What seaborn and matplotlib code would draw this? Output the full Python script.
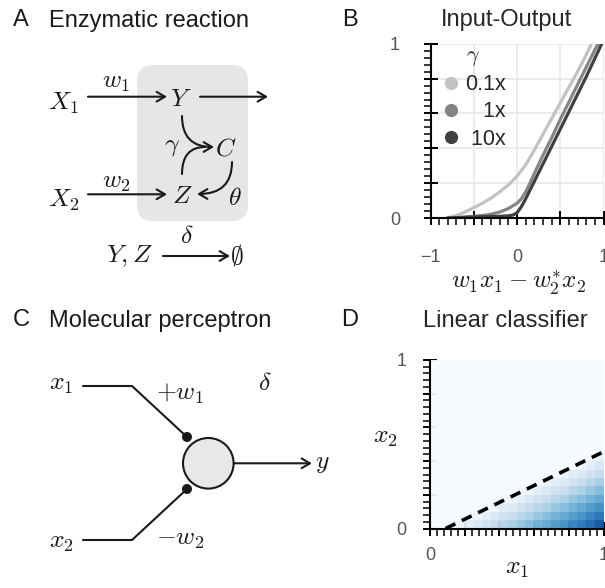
import numpy as np
import pandas as pd
import seaborn as sns
import matplotlib.pyplot as plt
from matplotlib.lines import Line2D
from matplotlib.patches import FancyBboxPatch, Circle
from matplotlib.ticker import MultipleLocator, FuncFormatter

# --- values ---

# B: steady state output vs net input w1*x1 - w2*x2, one curve per gamma
gamma_labels = ["0.1x", "1x", "10x"]
gamma_colors = ["#c2c2c2", "#858585", "#404040"]
u_slow = [-0.82, -0.7, -0.6, -0.5, -0.4, -0.3, -0.2, -0.1, 0.0, 0.1, 0.2, 0.3,
          0.4, 0.5, 0.6, 0.7, 0.8, 0.86]
y_slow = [0.0, 0.015, 0.035, 0.06, 0.085, 0.115, 0.15, 0.19, 0.24, 0.305, 0.39,
          0.48, 0.57, 0.66, 0.75, 0.84, 0.935, 1.0]
u_mid = [-0.8, -0.6, -0.5, -0.4, -0.3, -0.2, -0.1, 0.0, 0.05, 0.1, 0.15, 0.2,
         0.3, 0.4, 0.5, 0.6, 0.7, 0.8, 0.9, 0.94]
y_mid = [0.0, 0.005, 0.01, 0.015, 0.022, 0.035, 0.055, 0.085, 0.11, 0.15, 0.2,
         0.255, 0.36, 0.46, 0.565, 0.665, 0.765, 0.865, 0.965, 1.0]
u_fast = [-0.8, -0.6, -0.4, -0.2, -0.1, -0.05, 0.0, 0.05, 0.1, 0.2, 0.4, 0.6,
          0.8, 0.98]
y_fast = [0.0, 0.005, 0.008, 0.01, 0.013, 0.017, 0.03, 0.065, 0.11, 0.21, 0.41,
          0.61, 0.81, 1.0]

# D: classifier output on a 20x20 grid over (x1, x2), bottom row first
clf_out = [
    [0, 0, .02, .05, .10, .14, .19, .23, .28, .32, .37, .41, .46, .50, .55, .59, .64, .68, .73, .80],
    [0, 0, 0, 0, .02, .05, .10, .14, .19, .23, .28, .32, .37, .41, .46, .50, .55, .59, .64, .70],
    [0, 0, 0, 0, 0, 0, .02, .05, .10, .14, .19, .23, .28, .32, .37, .41, .46, .50, .55, .60],
    [0, 0, 0, 0, 0, 0, 0, 0, .02, .05, .10, .14, .19, .23, .28, .32, .37, .41, .46, .51],
    [0, 0, 0, 0, 0, 0, 0, 0, 0, 0, .02, .05, .10, .14, .19, .23, .28, .32, .37, .42],
    [0, 0, 0, 0, 0, 0, 0, 0, 0, 0, 0, 0, .02, .05, .10, .14, .19, .23, .28, .33],
    [0, 0, 0, 0, 0, 0, 0, 0, 0, 0, 0, 0, 0, 0, .02, .05, .10, .14, .19, .24],
    [0, 0, 0, 0, 0, 0, 0, 0, 0, 0, 0, 0, 0, 0, 0, 0, .02, .05, .10, .15],
    [0, 0, 0, 0, 0, 0, 0, 0, 0, 0, 0, 0, 0, 0, 0, 0, 0, 0, .02, .06],
    [0, 0, 0, 0, 0, 0, 0, 0, 0, 0, 0, 0, 0, 0, 0, 0, 0, 0, 0, 0],
    [0, 0, 0, 0, 0, 0, 0, 0, 0, 0, 0, 0, 0, 0, 0, 0, 0, 0, 0, 0],
    [0, 0, 0, 0, 0, 0, 0, 0, 0, 0, 0, 0, 0, 0, 0, 0, 0, 0, 0, 0],
    [0, 0, 0, 0, 0, 0, 0, 0, 0, 0, 0, 0, 0, 0, 0, 0, 0, 0, 0, 0],
    [0, 0, 0, 0, 0, 0, 0, 0, 0, 0, 0, 0, 0, 0, 0, 0, 0, 0, 0, 0],
    [0, 0, 0, 0, 0, 0, 0, 0, 0, 0, 0, 0, 0, 0, 0, 0, 0, 0, 0, 0],
    [0, 0, 0, 0, 0, 0, 0, 0, 0, 0, 0, 0, 0, 0, 0, 0, 0, 0, 0, 0],
    [0, 0, 0, 0, 0, 0, 0, 0, 0, 0, 0, 0, 0, 0, 0, 0, 0, 0, 0, 0],
    [0, 0, 0, 0, 0, 0, 0, 0, 0, 0, 0, 0, 0, 0, 0, 0, 0, 0, 0, 0],
    [0, 0, 0, 0, 0, 0, 0, 0, 0, 0, 0, 0, 0, 0, 0, 0, 0, 0, 0, 0],
    [0, 0, 0, 0, 0, 0, 0, 0, 0, 0, 0, 0, 0, 0, 0, 0, 0, 0, 0, 0],
]
boundary_x1 = [0.09, 1.0]
boundary_x2 = [0.0, 0.455]

# --- style ---
sns.set_style("whitegrid", {"axes.edgecolor": "black", "grid.color": "#e6e6e6",
                            "xtick.bottom": True, "ytick.left": True})
plt.rcParams["font.family"] = ["Liberation Sans", "DejaVu Sans"]
plt.rcParams["mathtext.fontset"] = "cm"
plt.rcParams["axes.linewidth"] = 1.5
plt.rcParams["grid.linewidth"] = 1.1

ink = "#1a1a1a"
MATH = 18.5
W, H = 605, 588
fig = plt.figure(figsize=(W / 100, H / 100), dpi=100)

# background axes in pixel units for the two diagrams and the panel letters
bg = fig.add_axes([0, 0, 1, 1])
bg.set_xlim(0, W)
bg.set_ylim(H, 0)
bg.axis("off")


def txt(x, y, s, size=MATH, ha="left", **kw):
    bg.text(x, y, s, fontsize=size, ha=ha, va="baseline", color=ink, **kw)


def arrow(p0, p1, conn="arc3", head=True):
    style = "->,head_length=0.6,head_width=0.35" if head else "-"
    bg.annotate("", xy=p1, xytext=p0,
                arrowprops=dict(arrowstyle=style, lw=1.5, color=ink, shrinkA=0,
                                shrinkB=0, mutation_scale=10, connectionstyle=conn))


# panel letters and titles
txt(21, 26.5, "A", 17, "center")
txt(49, 26.5, "Enzymatic reaction", 17)
txt(349.5, 26.5, "B", 17, "center")
txt(21, 326.5, "C", 17, "center")
txt(49, 326.5, "Molecular perceptron", 17)
txt(349.5, 326.5, "D", 17, "center")

# A: enzymatic reaction scheme
bg.add_patch(FancyBboxPatch((137, 65), 111, 156, boxstyle="round,pad=0,rounding_size=16",
                            fc="#e6e6e6", ec="none"))
txt(48, 110, r"$X_1$")
txt(48, 207, r"$X_2$")
txt(102, 88, r"$w_1$")
txt(102, 188, r"$w_2$")
txt(170, 106, r"$Y$")
txt(172, 203, r"$Z$")
txt(215, 155, r"$C$")
txt(164, 151, r"$\gamma$")
txt(228, 205, r"$\theta$")
txt(106, 262, r"$Y, Z$")
txt(180, 243, r"$\delta$")
txt(230, 263, r"$\emptyset$")
arrow((88, 96.7), (167, 96.7))
arrow((200, 96.7), (268, 96.7))
arrow((88, 194.3), (167, 194.3))
arrow((182, 116), (214, 147), "angle3,angleA=90,angleB=0")
arrow((182, 174), (205, 147), "angle3,angleA=90,angleB=0", head=False)
arrow((232, 162), (197, 194), "angle3,angleA=90,angleB=0")
arrow((163, 256), (230, 256))

# C: perceptron scheme
txt(49, 390, r"$x_1$")
txt(49, 548, r"$x_2$")
txt(156, 400, r"$+w_1$")
txt(156, 545, r"$-w_2$")
txt(265, 390, r"$\delta$", ha="center")
txt(315, 468, r"$y$")
bg.plot([83, 132, 187], [386, 386, 437], color=ink, lw=1.5)
bg.plot([83, 132, 187], [540, 540, 489], color=ink, lw=1.5)
bg.add_patch(Circle((208.3, 463.3), 25.3, fc="#e8e8e8", ec=ink, lw=1.5, zorder=3))
bg.add_patch(Circle((187, 437), 5, fc=ink, ec="none", zorder=4))
bg.add_patch(Circle((187, 489), 5, fc=ink, ec="none", zorder=4))
arrow((234, 463.3), (312, 463.3))


def end_labels(v, pos):
    if abs(v - round(v)) > 1e-9:
        return ""
    return f"{int(round(v))}".replace("-", "\u2212")


def style_axes(ax, xmaj, xmin, ymaj, ymin, xpad, ypad):
    ax.xaxis.set_major_locator(MultipleLocator(xmaj))
    ax.xaxis.set_minor_locator(MultipleLocator(xmin))
    ax.yaxis.set_major_locator(MultipleLocator(ymaj))
    ax.yaxis.set_minor_locator(MultipleLocator(ymin))
    ax.xaxis.set_major_formatter(FuncFormatter(end_labels))
    ax.yaxis.set_major_formatter(FuncFormatter(end_labels))
    ax.tick_params(which="major", direction="inout", length=10, width=1.4,
                   color="black", labelsize=13, labelcolor="#555555")
    ax.tick_params(which="minor", direction="out", length=5, width=1.1, color="black")
    ax.tick_params(axis="x", which="major", pad=xpad)
    ax.tick_params(axis="y", which="major", pad=ypad)
    sns.despine(ax=ax)


# B: input-output curves
ax_b = fig.add_axes([430.5 / W, 1 - 218.1 / H, 173 / W, 174.4 / H])
io = pd.concat([
    pd.DataFrame({"u": u_slow, "y": y_slow, "gamma": gamma_labels[0]}),
    pd.DataFrame({"u": u_mid, "y": y_mid, "gamma": gamma_labels[1]}),
    pd.DataFrame({"u": u_fast, "y": y_fast, "gamma": gamma_labels[2]}),
])
sns.lineplot(data=io, x="u", y="y", hue="gamma", hue_order=gamma_labels,
             palette=gamma_colors, sort=False, estimator=None, lw=2.3,
             legend=False, ax=ax_b)
ax_b.set_xlim(-1, 1)
ax_b.set_ylim(0, 1)
style_axes(ax_b, 0.5, 0.1, 0.2, 0.04, 17, 17)
ax_b.set_ylabel("")
ax_b.set_xlabel(r"$w_1x_1 - w_2^{*}x_2$", fontsize=18, color=ink, va="center")
ax_b.xaxis.set_label_coords(0.506, -0.37)
ax_b.set_title("Input-Output", fontsize=17, x=0.442, y=1.099, pad=0, va="baseline")

# legend with right-aligned labels (figure/punctuation spaces as padding)
handles = [Line2D([], [], ls="none", marker="o", ms=8.5, color=c) for c in gamma_colors]
leg_labels = ["0.1x", "\u2007\u20081x", "\u200810x"]
ax_b.legend(handles, leg_labels, title=r"$\gamma$", loc="upper left",
            bbox_to_anchor=(0.057, 0.99), frameon=False, fontsize=15.5,
            title_fontsize=16, handletextpad=0.15, labelspacing=0.28,
            borderpad=0, borderaxespad=0, handlelength=1.0)

# D: linear classifier heatmap
ax_d = fig.add_axes([430 / W, 1 - 528.5 / H, 173.5 / W, 168.5 / H])
n = len(clf_out)
cells = []
for r, row in enumerate(clf_out):
    for c, v in enumerate(row):
        cells.append(((c + 0.5) / n, (r + 0.5) / n, v))
grid_df = pd.DataFrame(cells, columns=["x1", "x2", "out"])
sns.histplot(data=grid_df, x="x1", y="x2", weights="out", bins=n,
             binrange=((0, 1), (0, 1)), cmap="Blues", vmin=0, vmax=0.92,
             thresh=None, alpha=0.94, ax=ax_d)
sns.lineplot(x=boundary_x1, y=boundary_x2, color="black", lw=2.6,
             linestyle=(0, (3, 2)), ax=ax_d)
ax_d.set_xlim(0, 1)
ax_d.set_ylim(0, 1)
style_axes(ax_d, 0.2, 0.04, 0.2, 0.04, 8.3, 12)
ax_d.set_xlabel(r"$x_1$", fontsize=MATH, color=ink, va="center")
ax_d.xaxis.set_label_coords(0.501, -0.234)
ax_d.set_ylabel(r"$x_2$", fontsize=MATH, color=ink, rotation=0, ha="center", va="center")
ax_d.yaxis.set_label_coords(-0.259, 0.543)
ax_d.set_title("Linear classifier", fontsize=17, x=0.432, y=1.198, pad=0, va="baseline")

fig.savefig("out.png", dpi=100)
